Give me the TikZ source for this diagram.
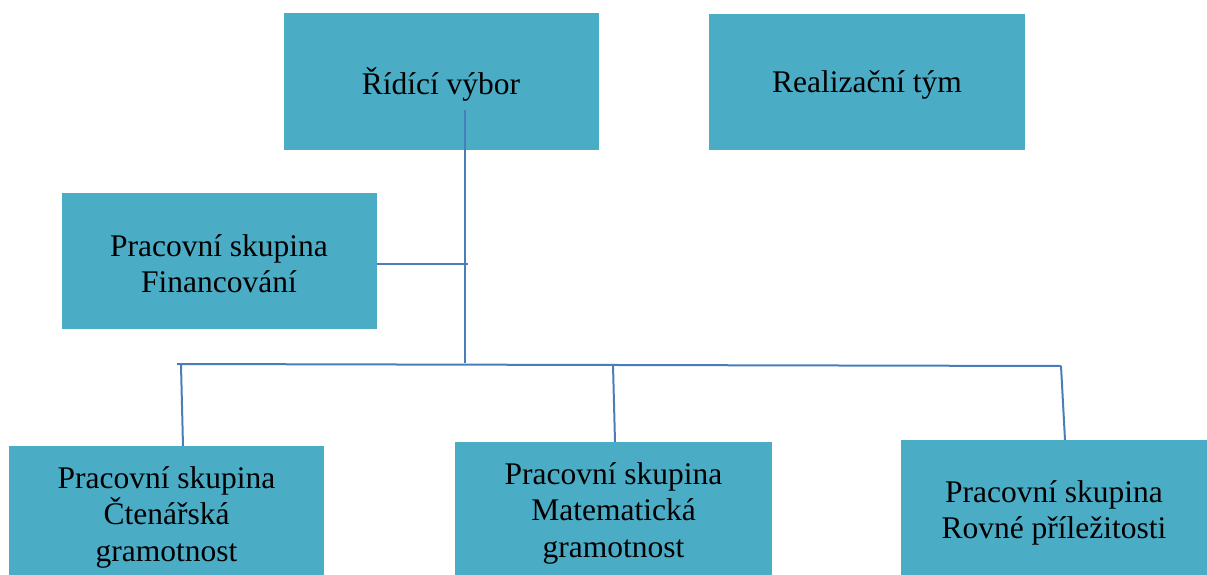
\documentclass[tikz,border=0pt]{standalone}
\usepackage{fontspec}
\setmainfont{Liberation Serif}
\usetikzlibrary{positioning}
\definecolor{boxfill}{HTML}{4BACC6}
\definecolor{linkblue}{HTML}{4A7EBB}
\tikzset{
  group/.style={rectangle,fill=boxfill,minimum width=315pt,minimum height=136pt},
  grouptext/.style={align=center,inner sep=0pt,yshift=-3pt,
    font=\fontsize{31.5}{36.5}\selectfont},
  link/.style={draw=linkblue,line width=2pt}
}
\begin{document}
\begin{tikzpicture}[x=1pt,y=-1pt]
  \clip (0,0) rectangle (1207,575);
  \fill[white] (0,0) rectangle (1207,575);
  % boxes
  \node[group] (ridici) at (441,81.5) {};
  \node[group,minimum width=316pt] (realiz) at (867,82) {};
  \node[group] (financ) at (219,260.5) {};
  \node[group] (cten) at (166.5,514) {};
  \node[group,minimum width=317pt] (matem) at (613.5,510) {};
  \node[group,minimum width=306pt,minimum height=140pt] (rovne) at (1054,510) {};
  % texts
  \node[grouptext] (ridici-t) at (ridici) {Řídící výbor};
  \node[grouptext] (realiz-t) at (realiz) {Realizační tým};
  \node[grouptext] (financ-t) at (financ) {Pracovní skupina\\Financování};
  \node[grouptext] (cten-t) at (cten) {Pracovní skupina\\Čtenářská\\gramotnost};
  \node[grouptext] (matem-t) at (matem) {Pracovní skupina\\Matematická\\gramotnost};
  \node[grouptext] (rovne-t) at (rovne) {Pracovní skupina\\Rovné příležitosti};
  % connectors
  \coordinate (top) at (465,110);
  \coordinate (join) at (465,363);
  \coordinate (tee) at (468,264);
  \coordinate (busL) at (177,364);
  \coordinate (busR) at (1061,366);
  \coordinate (d1) at (181,365);
  \coordinate (d2) at (613,365);
  \draw[link] (top) -- (join);
  \draw[link] (financ.east |- tee) -- (tee);
  \draw[link] (busL) -- (busR);
  \draw[link] (d1) -- (183,446);
  \draw[link] (d2) -- (615,442);
  \draw[link] (busR) -- (1065,440);
\end{tikzpicture}
\end{document}
